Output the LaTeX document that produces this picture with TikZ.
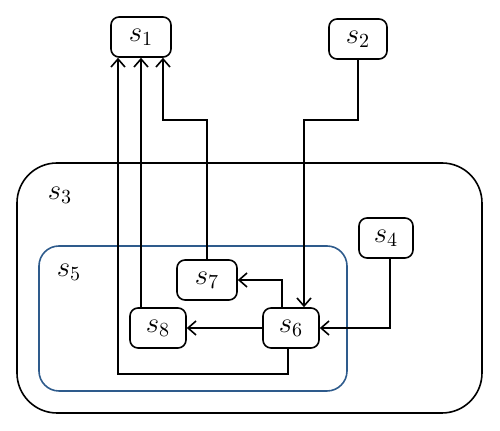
\documentclass[tikz,border=0pt]{standalone}
\usepackage{amsmath}
\usepackage{tikz}
\usetikzlibrary{arrows.meta}
\definecolor{setblue}{RGB}{46,91,140}

\begin{document}
\begin{tikzpicture}[>={Straight Barb[length=4pt,width=7pt]}, x=0.5pt, y=-0.5pt, font=\Large]
		\tikzstyle{state} = [draw, thick, rectangle, rounded corners=4pt, minimum width=29pt, minimum height=20pt, inner sep=0pt]
		\tikzstyle{label} = [inner sep=0pt]

		\useasboundingbox (0,0) rectangle (500,431);

		% the two nested sets
		\draw[thick, rounded corners=20pt] (17,163) rectangle (482,413);
		\draw[thick, setblue, rounded corners=10pt] (39,246) rectangle (347,391);

		\path[->, thick]
		node[state, minimum width=30pt] (s1) at (141,37) {$s_1$}
		node[state] (s2) at (358,39) {$s_2$}
		node[state, minimum width=27pt] (s4) at (386,238) {$s_4$}
		node[state, minimum width=30pt] (s7) at (207,280) {$s_7$}
		node[state, minimum width=28pt] (s8) at (158,328) {$s_8$}
		node[state, minimum width=28pt] (s6) at (291,328) {$s_6$}

		node[label] (s3) at (60,195) {$s_3$}
		node[label] (s5) at (69,272) {$s_5$}

		coordinate (lo) at (118,374)
		coordinate (hi1) at (163,120)
		coordinate (hi2) at (304,120)

		(s6.west) edge (s8.east)
		;

		\draw[->, thick] ([xshift=-1.5pt]s6.south) |- (lo) -- (lo |- s1.south);
		\draw[->, thick] (s8.north -| s1.south) -- (s1.south);
		\draw[->, thick] (s7.north) |- (hi1) -- (hi1 |- s1.south);
		\draw[->, thick] (s2.south) |- (hi2) -- (hi2 |- s6.north);
		\draw[->, thick] ([xshift=-4.5pt]s6.north) |- (s7.east);
		\draw[->, thick] ([xshift=2pt]s4.south) |- (s6.east);
		\end{tikzpicture}
\end{document}
